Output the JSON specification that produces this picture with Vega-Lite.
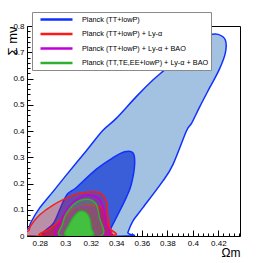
{
  "$schema": "https://vega.github.io/schema/vega-lite/v6.json",
  "width": 213,
  "height": 210,
  "autosize": {"type": "none"},
  "padding": {"left": 27, "top": 26, "right": 33, "bottom": 27},
  "config": {
    "view": {"stroke": "black", "strokeWidth": 1},
    "font": "Liberation Sans",
    "axis": {"grid": false, "domain": false, "tickColor": "black", "labelColor": "black", "labelFont": "Liberation Sans", "labelFontSize": 8, "titleFont": "Liberation Sans", "titleFontWeight": "normal", "titleColor": "black", "labelOverlap": false}
  },
  "data": {"values": [
    {"s": "Planck (TT+lowP)", "c": "95", "i": 0, "x": 0.2720, "y": 0},
    {"s": "Planck (TT+lowP)", "c": "95", "i": 1, "x": 0.2720, "y": 0.034},
    {"s": "Planck (TT+lowP)", "c": "95", "i": 2, "x": 0.2733, "y": 0.054},
    {"s": "Planck (TT+lowP)", "c": "95", "i": 3, "x": 0.2798, "y": 0.106},
    {"s": "Planck (TT+lowP)", "c": "95", "i": 4, "x": 0.2904, "y": 0.169},
    {"s": "Planck (TT+lowP)", "c": "95", "i": 5, "x": 0.3008, "y": 0.232},
    {"s": "Planck (TT+lowP)", "c": "95", "i": 6, "x": 0.3164, "y": 0.324},
    {"s": "Planck (TT+lowP)", "c": "95", "i": 7, "x": 0.3294, "y": 0.402},
    {"s": "Planck (TT+lowP)", "c": "95", "i": 8, "x": 0.3400, "y": 0.448},
    {"s": "Planck (TT+lowP)", "c": "95", "i": 9, "x": 0.3557, "y": 0.531},
    {"s": "Planck (TT+lowP)", "c": "95", "i": 10, "x": 0.3687, "y": 0.594},
    {"s": "Planck (TT+lowP)", "c": "95", "i": 11, "x": 0.3819, "y": 0.651},
    {"s": "Planck (TT+lowP)", "c": "95", "i": 12, "x": 0.3950, "y": 0.721},
    {"s": "Planck (TT+lowP)", "c": "95", "i": 13, "x": 0.4081, "y": 0.766},
    {"s": "Planck (TT+lowP)", "c": "95", "i": 14, "x": 0.4134, "y": 0.768},
    {"s": "Planck (TT+lowP)", "c": "95", "i": 15, "x": 0.4199, "y": 0.768},
    {"s": "Planck (TT+lowP)", "c": "95", "i": 16, "x": 0.4255, "y": 0.747},
    {"s": "Planck (TT+lowP)", "c": "95", "i": 17, "x": 0.4255, "y": 0.697},
    {"s": "Planck (TT+lowP)", "c": "95", "i": 18, "x": 0.4205, "y": 0.632},
    {"s": "Planck (TT+lowP)", "c": "95", "i": 19, "x": 0.4130, "y": 0.563},
    {"s": "Planck (TT+lowP)", "c": "95", "i": 20, "x": 0.4055, "y": 0.493},
    {"s": "Planck (TT+lowP)", "c": "95", "i": 21, "x": 0.3990, "y": 0.429},
    {"s": "Planck (TT+lowP)", "c": "95", "i": 22, "x": 0.3950, "y": 0.400},
    {"s": "Planck (TT+lowP)", "c": "95", "i": 23, "x": 0.3845, "y": 0.273},
    {"s": "Planck (TT+lowP)", "c": "95", "i": 24, "x": 0.3766, "y": 0.210},
    {"s": "Planck (TT+lowP)", "c": "95", "i": 25, "x": 0.3609, "y": 0.108},
    {"s": "Planck (TT+lowP)", "c": "95", "i": 26, "x": 0.3530, "y": 0.057},
    {"s": "Planck (TT+lowP)", "c": "95", "i": 27, "x": 0.3491, "y": 0.013},
    {"s": "Planck (TT+lowP)", "c": "95", "i": 28, "x": 0.3486, "y": 0},

    {"s": "Planck (TT+lowP)", "c": "68", "i": 0, "x": 0.2843, "y": 0},
    {"s": "Planck (TT+lowP)", "c": "68", "i": 1, "x": 0.2914, "y": 0.053},
    {"s": "Planck (TT+lowP)", "c": "68", "i": 2, "x": 0.3006, "y": 0.152},
    {"s": "Planck (TT+lowP)", "c": "68", "i": 3, "x": 0.3085, "y": 0.184},
    {"s": "Planck (TT+lowP)", "c": "68", "i": 4, "x": 0.3242, "y": 0.254},
    {"s": "Planck (TT+lowP)", "c": "68", "i": 5, "x": 0.3373, "y": 0.298},
    {"s": "Planck (TT+lowP)", "c": "68", "i": 6, "x": 0.3465, "y": 0.321},
    {"s": "Planck (TT+lowP)", "c": "68", "i": 7, "x": 0.3530, "y": 0.317},
    {"s": "Planck (TT+lowP)", "c": "68", "i": 8, "x": 0.3544, "y": 0.273},
    {"s": "Planck (TT+lowP)", "c": "68", "i": 9, "x": 0.3518, "y": 0.197},
    {"s": "Planck (TT+lowP)", "c": "68", "i": 10, "x": 0.3478, "y": 0.146},
    {"s": "Planck (TT+lowP)", "c": "68", "i": 11, "x": 0.3400, "y": 0.070},
    {"s": "Planck (TT+lowP)", "c": "68", "i": 12, "x": 0.3347, "y": 0.019},
    {"s": "Planck (TT+lowP)", "c": "68", "i": 13, "x": 0.3333, "y": 0},

    {"s": "Planck (TT+lowP) + Ly-α", "c": "95", "i": 0, "x": 0.2710, "y": 0},
    {"s": "Planck (TT+lowP) + Ly-α", "c": "95", "i": 1, "x": 0.2717, "y": 0.023},
    {"s": "Planck (TT+lowP) + Ly-α", "c": "95", "i": 2, "x": 0.2733, "y": 0.042},
    {"s": "Planck (TT+lowP) + Ly-α", "c": "95", "i": 3, "x": 0.2798, "y": 0.080},
    {"s": "Planck (TT+lowP) + Ly-α", "c": "95", "i": 4, "x": 0.2904, "y": 0.118},
    {"s": "Planck (TT+lowP) + Ly-α", "c": "95", "i": 5, "x": 0.3034, "y": 0.150},
    {"s": "Planck (TT+lowP) + Ly-α", "c": "95", "i": 6, "x": 0.3113, "y": 0.163},
    {"s": "Planck (TT+lowP) + Ly-α", "c": "95", "i": 7, "x": 0.3189, "y": 0.168},
    {"s": "Planck (TT+lowP) + Ly-α", "c": "95", "i": 8, "x": 0.3268, "y": 0.165},
    {"s": "Planck (TT+lowP) + Ly-α", "c": "95", "i": 9, "x": 0.3321, "y": 0.133},
    {"s": "Planck (TT+lowP) + Ly-α", "c": "95", "i": 10, "x": 0.3333, "y": 0.083},
    {"s": "Planck (TT+lowP) + Ly-α", "c": "95", "i": 11, "x": 0.3347, "y": 0.032},
    {"s": "Planck (TT+lowP) + Ly-α", "c": "95", "i": 12, "x": 0.3355, "y": 0},

    {"s": "Planck (TT+lowP) + Ly-α", "c": "68", "i": 0, "x": 0.2820, "y": 0},
    {"s": "Planck (TT+lowP) + Ly-α", "c": "68", "i": 1, "x": 0.2875, "y": 0.026},
    {"s": "Planck (TT+lowP) + Ly-α", "c": "68", "i": 2, "x": 0.2953, "y": 0.057},
    {"s": "Planck (TT+lowP) + Ly-α", "c": "68", "i": 3, "x": 0.3032, "y": 0.091},
    {"s": "Planck (TT+lowP) + Ly-α", "c": "68", "i": 4, "x": 0.3134, "y": 0.114},
    {"s": "Planck (TT+lowP) + Ly-α", "c": "68", "i": 5, "x": 0.3229, "y": 0.118},
    {"s": "Planck (TT+lowP) + Ly-α", "c": "68", "i": 6, "x": 0.3300, "y": 0.099},
    {"s": "Planck (TT+lowP) + Ly-α", "c": "68", "i": 7, "x": 0.3323, "y": 0.053},
    {"s": "Planck (TT+lowP) + Ly-α", "c": "68", "i": 8, "x": 0.3327, "y": 0},

    {"s": "Planck (TT+lowP) + Ly-α + BAO", "c": "95", "i": 0, "x": 0.2940, "y": 0},
    {"s": "Planck (TT+lowP) + Ly-α + BAO", "c": "95", "i": 1, "x": 0.2967, "y": 0.057},
    {"s": "Planck (TT+lowP) + Ly-α + BAO", "c": "95", "i": 2, "x": 0.3032, "y": 0.114},
    {"s": "Planck (TT+lowP) + Ly-α + BAO", "c": "95", "i": 3, "x": 0.3137, "y": 0.152},
    {"s": "Planck (TT+lowP) + Ly-α + BAO", "c": "95", "i": 4, "x": 0.3203, "y": 0.155},
    {"s": "Planck (TT+lowP) + Ly-α + BAO", "c": "95", "i": 5, "x": 0.3268, "y": 0.140},
    {"s": "Planck (TT+lowP) + Ly-α + BAO", "c": "95", "i": 6, "x": 0.3307, "y": 0.095},
    {"s": "Planck (TT+lowP) + Ly-α + BAO", "c": "95", "i": 7, "x": 0.3321, "y": 0.045},
    {"s": "Planck (TT+lowP) + Ly-α + BAO", "c": "95", "i": 8, "x": 0.3326, "y": 0},

    {"s": "Planck (TT+lowP) + Ly-α + BAO", "c": "68", "i": 0, "x": 0.2985, "y": 0},
    {"s": "Planck (TT+lowP) + Ly-α + BAO", "c": "68", "i": 1, "x": 0.3005, "y": 0.045},
    {"s": "Planck (TT+lowP) + Ly-α + BAO", "c": "68", "i": 2, "x": 0.3060, "y": 0.092},
    {"s": "Planck (TT+lowP) + Ly-α + BAO", "c": "68", "i": 3, "x": 0.3150, "y": 0.112},
    {"s": "Planck (TT+lowP) + Ly-α + BAO", "c": "68", "i": 4, "x": 0.3225, "y": 0.100},
    {"s": "Planck (TT+lowP) + Ly-α + BAO", "c": "68", "i": 5, "x": 0.3272, "y": 0.058},
    {"s": "Planck (TT+lowP) + Ly-α + BAO", "c": "68", "i": 6, "x": 0.3290, "y": 0},

    {"s": "Planck (TT,TE,EE+lowP) + Ly-α + BAO", "c": "95", "i": 0, "x": 0.2967, "y": 0},
    {"s": "Planck (TT,TE,EE+lowP) + Ly-α + BAO", "c": "95", "i": 1, "x": 0.2977, "y": 0.042},
    {"s": "Planck (TT,TE,EE+lowP) + Ly-α + BAO", "c": "95", "i": 2, "x": 0.3006, "y": 0.083},
    {"s": "Planck (TT,TE,EE+lowP) + Ly-α + BAO", "c": "95", "i": 3, "x": 0.3085, "y": 0.127},
    {"s": "Planck (TT,TE,EE+lowP) + Ly-α + BAO", "c": "95", "i": 4, "x": 0.3176, "y": 0.140},
    {"s": "Planck (TT,TE,EE+lowP) + Ly-α + BAO", "c": "95", "i": 5, "x": 0.3242, "y": 0.121},
    {"s": "Planck (TT,TE,EE+lowP) + Ly-α + BAO", "c": "95", "i": 6, "x": 0.3268, "y": 0.070},
    {"s": "Planck (TT,TE,EE+lowP) + Ly-α + BAO", "c": "95", "i": 7, "x": 0.3282, "y": 0},

    {"s": "Planck (TT,TE,EE+lowP) + Ly-α + BAO", "c": "68", "i": 0, "x": 0.3006, "y": 0},
    {"s": "Planck (TT,TE,EE+lowP) + Ly-α + BAO", "c": "68", "i": 1, "x": 0.3032, "y": 0.045},
    {"s": "Planck (TT,TE,EE+lowP) + Ly-α + BAO", "c": "68", "i": 2, "x": 0.3097, "y": 0.089},
    {"s": "Planck (TT,TE,EE+lowP) + Ly-α + BAO", "c": "68", "i": 3, "x": 0.3150, "y": 0.093},
    {"s": "Planck (TT,TE,EE+lowP) + Ly-α + BAO", "c": "68", "i": 4, "x": 0.3189, "y": 0.070},
    {"s": "Planck (TT,TE,EE+lowP) + Ly-α + BAO", "c": "68", "i": 5, "x": 0.3203, "y": 0.032},
    {"s": "Planck (TT,TE,EE+lowP) + Ly-α + BAO", "c": "68", "i": 6, "x": 0.3208, "y": 0}
  ]},
  "encoding": {
    "x": {"field": "x", "type": "quantitative", "scale": {"domain": [0.27, 0.437], "nice": false, "zero": false},
      "axis": {"orient": "bottom", "title": "Ωm", "titleFontSize": 12, "titleAnchor": "end", "titleAlign": "right", "titleBaseline": "alphabetic", "titleX": 213, "titleY": 20,
        "values": [0.272,0.276,0.28,0.284,0.288,0.292,0.296,0.3,0.304,0.308,0.312,0.316,0.32,0.324,0.328,0.332,0.336,0.34,0.344,0.348,0.352,0.356,0.36,0.364,0.368,0.372,0.376,0.38,0.384,0.388,0.392,0.396,0.4,0.404,0.408,0.412,0.416,0.42,0.424,0.428,0.432,0.436],
        "labelExpr": "abs(datum.value*50 - round(datum.value*50)) < 0.001 ? format(datum.value, '~g') : ''",
        "tickSize": {"condition": {"test": "abs(datum.value*50 - round(datum.value*50)) < 0.001", "value": -6}, "value": -3},
        "labelPadding": 9, "labelOverlap": false, "labelFlush": false}},
    "y": {"field": "y", "type": "quantitative", "scale": {"domain": [0, 0.8], "nice": false, "zero": false},
      "axis": {"orient": "left", "title": "Σ mν", "titleFontSize": 13, "titleAnchor": "end", "titleAlign": "right", "titleAngle": 270, "titleBaseline": "alphabetic", "titleX": -11, "titleY": 0,
        "values": [0,0.02,0.04,0.06,0.08,0.1,0.12,0.14,0.16,0.18,0.2,0.22,0.24,0.26,0.28,0.3,0.32,0.34,0.36,0.38,0.4,0.42,0.44,0.46,0.48,0.5,0.52,0.54,0.56,0.58,0.6,0.62,0.64,0.66,0.68,0.7,0.72,0.74,0.76,0.78,0.8],
        "labelExpr": "abs(datum.value*10 - round(datum.value*10)) < 0.001 ? format(datum.value, '~g') : ''",
        "tickSize": {"condition": {"test": "abs(datum.value*10 - round(datum.value*10)) < 0.001", "value": -6}, "value": -3},
        "labelPadding": 9, "labelOverlap": false, "labelFlush": false, "labelBound": false}},
    "order": {"field": "i", "type": "quantitative"},
    "stroke": {
      "field": "s", "type": "nominal",
      "scale": {"domain": ["Planck (TT+lowP)", "Planck (TT+lowP) + Ly-α", "Planck (TT+lowP) + Ly-α + BAO", "Planck (TT,TE,EE+lowP) + Ly-α + BAO"], "range": ["#1030ff", "#ff1a1a", "#c000d8", "#30b030"]},
      "legend": {"orient": "none", "legendX": 5, "legendY": -14, "title": null, "fillColor": "white", "strokeColor": "#8a8a8a", "padding": 2, "labelFont": "Liberation Sans", "labelFontSize": 7.3, "labelColor": "black", "symbolType": "M0.25,0H8.25", "symbolSize": 64, "symbolStrokeWidth": 2.5, "rowPadding": 3.5, "labelOffset": 37, "labelLimit": 300}
    }
  },
  "layer": [
    {
      "transform": [{"filter": "datum.s == 'Planck (TT+lowP)' && datum.c == '95'"}],
      "mark": {"type": "line", "interpolate": "cardinal-closed", "fill": "#a3c1e1", "fillOpacity": 1, "strokeWidth": 1.5, "clip": true}
    },
    {
      "transform": [{"filter": "datum.s == 'Planck (TT+lowP)' && datum.c == '68'"}],
      "mark": {"type": "line", "interpolate": "cardinal-closed", "fill": "#3a5ed8", "fillOpacity": 1, "strokeWidth": 1.5, "clip": true}
    },
    {
      "transform": [{"filter": "datum.s == 'Planck (TT+lowP) + Ly-α' && datum.c == '95'"}],
      "mark": {"type": "line", "interpolate": "cardinal-closed", "fill": "#ff0000", "fillOpacity": 0.25, "strokeWidth": 1.5, "clip": true}
    },
    {
      "transform": [{"filter": "datum.s == 'Planck (TT+lowP) + Ly-α' && datum.c == '68'"}],
      "mark": {"type": "line", "interpolate": "cardinal-closed", "fill": "#ff0000", "fillOpacity": 0.4, "strokeWidth": 1.5, "clip": true}
    },
    {
      "transform": [{"filter": "datum.s == 'Planck (TT+lowP) + Ly-α + BAO' && datum.c == '95'"}],
      "mark": {"type": "line", "interpolate": "cardinal-closed", "fill": "#cc00cc", "fillOpacity": 0.2, "strokeWidth": 1.5, "clip": true}
    },
    {
      "transform": [{"filter": "datum.s == 'Planck (TT+lowP) + Ly-α + BAO' && datum.c == '68'"}],
      "mark": {"type": "line", "interpolate": "cardinal-closed", "fill": "#cc00cc", "fillOpacity": 0.2, "strokeWidth": 1.5, "clip": true}
    },
    {
      "transform": [{"filter": "datum.s == 'Planck (TT,TE,EE+lowP) + Ly-α + BAO' && datum.c == '95'"}],
      "mark": {"type": "line", "interpolate": "cardinal-closed", "fill": "#44aa44", "fillOpacity": 0.4, "strokeWidth": 1.5, "clip": true}
    },
    {
      "transform": [{"filter": "datum.s == 'Planck (TT,TE,EE+lowP) + Ly-α + BAO' && datum.c == '68'"}],
      "mark": {"type": "line", "interpolate": "cardinal-closed", "fill": "#3dcc3d", "fillOpacity": 0.9, "strokeWidth": 1.5, "clip": true}
    }
  ]
}
